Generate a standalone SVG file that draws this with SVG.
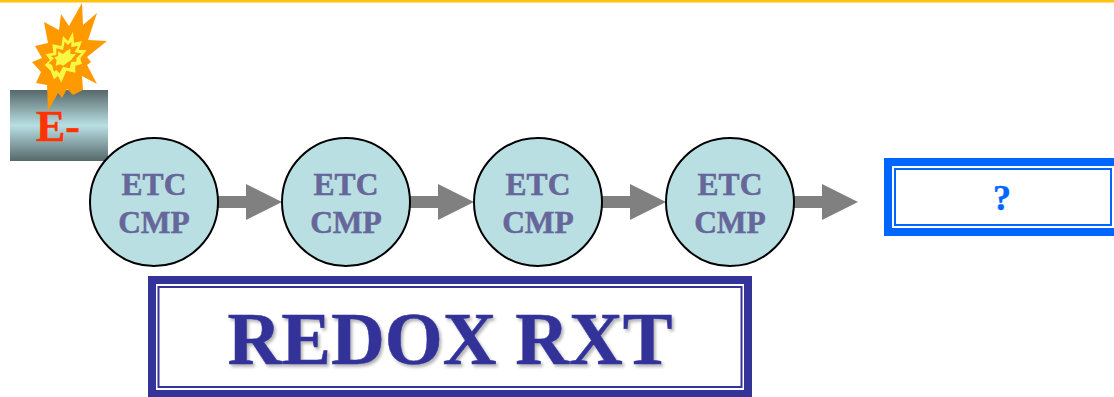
<svg xmlns="http://www.w3.org/2000/svg" width="1114" height="397" viewBox="0 0 1114 397">
<style>
text{font-family:"Liberation Serif","Times New Roman",serif;font-weight:bold;text-anchor:middle;stroke-width:.5px}
.c{fill:#b9dfe3;stroke:#000;stroke-width:2}
.l{font-size:31.500px;fill:#66669a;stroke:#66669a}
.a{fill:#808080}
.y{fill:#f7f744}
</style>
<defs>
<linearGradient id="g" x1="0" y1="0" x2="0" y2="1">
<stop offset="0" stop-color="#56686a"/><stop offset=".5" stop-color="#b9dfe3"/><stop offset="1" stop-color="#56686a"/>
</linearGradient>
<filter id="s" x="-5%" y="-10%" width="110%" height="125%"><feDropShadow dx="2" dy="2.5" stdDeviation="1.5" flood-color="#000" flood-opacity=".3"/></filter>
</defs>
<rect width="1114" height="2.500" fill="#ffc20e"/>
<g id="e-box">
<rect x="10" y="90" width="98" height="71" fill="url(#g)"/>
<polygon fill="#ff9900" points="82,3 83,25 97,13 88,40 107,41 87,57 91,62 87,65 97,84 82,76 83,90 73,95 67,89 62,98 58,93 48,111 47,85 36,83 41,72 32,62 42,58 35,46 48,43 44,22 59,30 61,14 69,26"/>
<g transform="translate(28 0) scale(.3333)">
<polygon class="y" points="135,95 138,128 162,123 152,150 176,150 157,175 162,192 142,197 142,218 115,212 100,248 90,228 78,238 68,212 50,195 66,180 53,163 76,158 73,133 100,138 105,108 120,123"/>
<polygon fill="#ff9900" points="130,125 130,142 150,137 140,157 160,160 145,175 145,185 130,185 125,205 105,200 95,220 85,210 78,215 72,195 62,190 78,175 68,168 85,165 85,145 105,150 110,125 120,135"/>
<polygon class="y" points="127,146 127,162 144,162 133,175 130,180 117,188 106,197 95,193 83,198 86,181 79,172 90,168 90,154 105,162 116,152"/>
</g>
<text x="58" y="141" font-size="44" fill="#ff3300" stroke="#ff3300">E-</text>
</g>
<g id="connectors">
<polygon class="a" points="218,196 246,196 246,184 282,202 246,220 246,208 218,208"/>
<polygon class="a" points="410,196 438,196 438,184 474,202 438,220 438,208 410,208"/>
<polygon class="a" points="602,196 630,196 630,184 666,202 630,220 630,208 602,208"/>
<polygon class="a" points="794,196 822,196 822,184 858,202 822,220 822,208 794,208"/>
</g>
<g id="etc1"><circle class="c" cx="154" cy="202" r="64"/><text class="l" x="154" y="195">ETC</text><text class="l" x="154" y="233">CMP</text></g>
<g id="etc2"><circle class="c" cx="346" cy="202" r="64"/><text class="l" x="346" y="195">ETC</text><text class="l" x="346" y="233">CMP</text></g>
<g id="etc3"><circle class="c" cx="538" cy="202" r="64"/><text class="l" x="538" y="195">ETC</text><text class="l" x="538" y="233">CMP</text></g>
<g id="etc4"><circle class="c" cx="730" cy="202" r="64"/><text class="l" x="730" y="195">ETC</text><text class="l" x="730" y="233">CMP</text></g>
<g id="question">
<rect x="888" y="162" width="230" height="70" fill="#fff" stroke="#0066ff" stroke-width="8"/>
<rect x="895" y="169" width="216" height="56" fill="none" stroke="#0066ff" stroke-width="2"/>
<text x="1002" y="210" font-size="36" fill="#0066ff" stroke="#0066ff">?</text>
</g>
<g id="redox">
<rect x="152" y="280" width="596" height="114" fill="#fff" stroke="#333399" stroke-width="8"/>
<rect x="158.500" y="287" width="583" height="100" fill="none" stroke="#333399" stroke-width="2"/>
<text x="450" y="364" font-size="74.500" fill="#333399" stroke="#333399" filter="url(#s)">REDOX RXT</text>
</g>
</svg>
